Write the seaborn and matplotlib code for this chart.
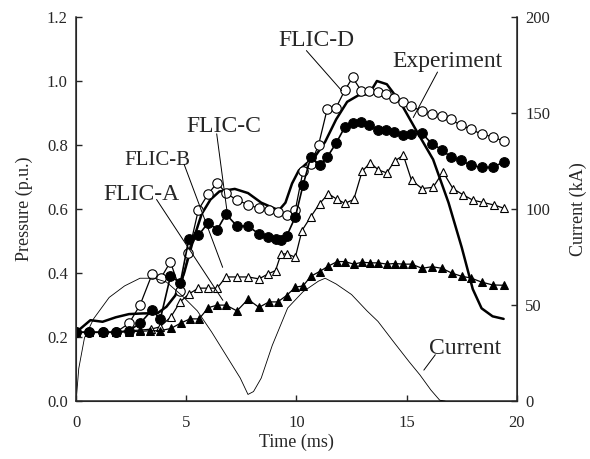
import matplotlib
matplotlib.use('Agg')
import matplotlib.pyplot as plt
import seaborn as sns

# pressure (p.u.) vs time (ms)
t_exp = [0, 0.65, 1.2, 1.8, 2.4, 3.0, 3.7, 4.1, 4.5, 4.9, 5.3, 5.7, 6.1, 6.5, 7.2, 7.8, 8.4, 9.2, 9.5, 9.8,
         10.1, 10.45, 10.8, 11.3, 11.8, 12.3, 12.8, 13.3, 13.65, 14.1, 14.7, 15.4, 16.2, 16.9, 17.5, 18.0, 18.4, 18.9, 19.4]
p_exp = [0.215, 0.253, 0.248, 0.262, 0.272, 0.274, 0.275, 0.295, 0.33, 0.4, 0.5, 0.585, 0.63, 0.655, 0.663, 0.65, 0.62, 0.596, 0.62, 0.68,
         0.72, 0.742, 0.76, 0.81, 0.88, 0.935, 0.955, 0.96, 1.0, 0.99, 0.935, 0.85, 0.755, 0.62, 0.48, 0.35, 0.29, 0.265, 0.257]

t_a = [0, 0.6, 1.2, 1.8, 2.4, 2.9, 3.35, 3.8, 4.3, 4.75, 5.17, 5.58, 6.0, 6.4, 6.8, 7.3, 7.8, 8.3, 8.75, 9.15,
       9.55, 9.95, 10.3, 10.65, 11.05, 11.45, 11.85, 12.2, 12.6, 12.98, 13.35, 13.72, 14.1, 14.45, 14.85,
       15.22, 15.7, 16.15, 16.6, 17.05, 17.5, 17.9, 18.4, 18.9, 19.4]
p_a = [0.215, 0.215, 0.215, 0.215, 0.217, 0.218, 0.22, 0.22, 0.227, 0.244, 0.257, 0.257, 0.292, 0.3, 0.3, 0.282, 0.318, 0.293, 0.31, 0.31,
       0.33, 0.356, 0.36, 0.39, 0.405, 0.422, 0.436, 0.436, 0.428, 0.434, 0.432, 0.432, 0.428, 0.43, 0.428,
       0.428, 0.415, 0.42, 0.415, 0.4, 0.39, 0.385, 0.372, 0.363, 0.362]

t_b = [0, 0.6, 1.2, 1.8, 2.4, 2.9, 3.4, 3.8, 4.3, 4.72, 5.12, 5.55, 5.97, 6.4, 6.8, 7.3, 7.8, 8.3, 8.7, 9.05,
       9.3, 9.55, 9.95, 10.25, 10.65, 11.05, 11.45, 11.85, 12.2, 12.6, 12.98, 13.35, 13.72, 14.1, 14.45,
       14.85, 15.22, 15.7, 16.2, 16.65, 17.1, 17.55, 18.0, 18.45, 18.95, 19.4]
p_b = [0.215, 0.215, 0.215, 0.215, 0.22, 0.222, 0.225, 0.232, 0.263, 0.31, 0.335, 0.353, 0.353, 0.353, 0.388, 0.388, 0.388, 0.382, 0.397, 0.408,
       0.46, 0.46, 0.45, 0.533, 0.576, 0.617, 0.648, 0.63, 0.618, 0.63, 0.718, 0.745, 0.722, 0.713, 0.75,
       0.768, 0.69, 0.664, 0.668, 0.716, 0.664, 0.645, 0.628, 0.621, 0.613, 0.603]

t_c = [0, 0.6, 1.2, 1.8, 2.4, 2.9, 3.45, 3.82, 4.28, 4.73, 5.12, 5.55, 6.0, 6.4, 6.8, 7.3, 7.8, 8.3, 8.72, 9.05,
       9.3, 9.55, 9.95, 10.3, 10.65, 11.05, 11.4, 11.8, 12.2, 12.55, 12.95, 13.3, 13.7, 14.06, 14.44,
       14.82, 15.2, 15.7, 16.15, 16.6, 17.0, 17.45, 17.9, 18.4, 18.9, 19.4]
p_c = [0.215, 0.215, 0.215, 0.215, 0.22, 0.243, 0.285, 0.256, 0.39, 0.37, 0.508, 0.518, 0.558, 0.535, 0.584, 0.547, 0.547, 0.522, 0.512, 0.508,
       0.503, 0.515, 0.576, 0.675, 0.763, 0.738, 0.763, 0.806, 0.857, 0.868, 0.873, 0.862, 0.847, 0.847, 0.842,
       0.831, 0.835, 0.837, 0.803, 0.786, 0.762, 0.753, 0.737, 0.73, 0.73, 0.747]

t_d = [0, 0.6, 1.2, 1.8, 2.4, 2.9, 3.45, 3.86, 4.28, 4.73, 5.1, 5.55, 6.0, 6.4, 6.8, 7.3, 7.8, 8.3, 8.75, 9.15,
       9.55, 9.95, 10.3, 10.65, 11.0, 11.4, 11.8, 12.2, 12.55, 12.95, 13.3, 13.7, 14.06, 14.44, 14.82,
       15.2, 15.7, 16.15, 16.6, 17.0, 17.45, 17.9, 18.4, 18.9, 19.4]
p_d = [0.215, 0.215, 0.215, 0.215, 0.243, 0.3, 0.397, 0.386, 0.435, 0.345, 0.462, 0.598, 0.648, 0.682, 0.65, 0.628, 0.614, 0.602, 0.597, 0.59,
       0.58, 0.598, 0.72, 0.74, 0.8, 0.914, 0.917, 0.972, 1.011, 0.968, 0.968, 0.967, 0.96, 0.946, 0.933,
       0.922, 0.905, 0.897, 0.89, 0.88, 0.862, 0.85, 0.834, 0.826, 0.812]

# arc current (kA), right axis
t_cur = [0, 0.12, 0.38, 0.8, 1.5, 2.2, 2.9, 3.55, 4.1, 4.8, 5.5, 6.15, 6.8, 7.45, 7.8, 8.05, 8.4, 8.9, 9.6, 10.3,
         11.0, 11.3, 11.8, 12.5, 13.2, 13.7, 14.4, 15.1, 15.6, 16.1, 16.5, 16.75]
i_cur = [0, 17, 33, 43, 54, 60, 64, 64, 62, 55, 47, 36, 24, 12, 3.5, 5, 12, 29, 48.5, 57,
         62.5, 64, 61, 55.5, 47, 41.5, 31, 20.7, 13.7, 5.8, 0.5, 0]

sns.set_style('ticks')
plt.rcParams['font.family'] = ['Liberation Serif', 'DejaVu Serif']

fig = plt.figure(figsize=(5.9, 4.59), dpi=100)
ax = fig.add_axes([0.129, 0.126, 0.747, 0.837])

sns.lineplot(x=t_exp, y=p_exp, ax=ax, color='black', lw=1.8, errorbar=None, sort=False)
# open markers first, filled ones on top
sns.lineplot(x=t_d, y=p_d, ax=ax, color='black', lw=0.9, marker='o', markersize=6.8,
             markerfacecolor='white', markeredgecolor='black', markeredgewidth=0.8, errorbar=None, sort=False)
sns.lineplot(x=t_b, y=p_b, ax=ax, color='black', lw=0.9, marker='^', markersize=5.8,
             markerfacecolor='white', markeredgecolor='black', markeredgewidth=0.8, errorbar=None, sort=False)
sns.lineplot(x=t_c, y=p_c, ax=ax, color='black', lw=1.2, marker='o', markersize=7,
             markerfacecolor='black', markeredgecolor='black', errorbar=None, sort=False)
sns.lineplot(x=t_a, y=p_a, ax=ax, color='black', lw=0.9, marker='^', markersize=5.8,
             markerfacecolor='black', markeredgecolor='black', errorbar=None, sort=False)

ax.set_xlim(0, 20)
ax.set_ylim(0, 1.2)
ax.set_xticks([0, 5, 10, 15, 20])
ax.set_yticks([0, 0.2, 0.4, 0.6, 0.8, 1.0, 1.2])
ax.set_yticklabels(['0.0', '0.2', '0.4', '0.6', '0.8', '1.0', '1.2'])
ax.set_xlabel('Time (ms)', fontsize=13, labelpad=2)
ax.set_ylabel('Pressure (p.u.)', fontsize=13, labelpad=10)
ax.tick_params(direction='in', length=4, width=1, labelsize=12)
ax.tick_params(axis='x', pad=10)
ax.tick_params(axis='y', pad=6)
ax.spines['top'].set_visible(False)
for s in ['left', 'bottom']:
    ax.spines[s].set_linewidth(1.1)

ax2 = ax.twinx()
sns.lineplot(x=t_cur, y=i_cur, ax=ax2, color='black', lw=0.6, errorbar=None, sort=False)
ax2.set_ylim(0, 200)
ax2.set_yticks([0, 50, 100, 150, 200])
ax2.set_ylabel('Current (kA)', fontsize=13, labelpad=14)
ax2.tick_params(direction='in', length=4, width=1, labelsize=12, pad=6)
ax2.spines['top'].set_visible(False)
ax2.spines['right'].set_linewidth(1.1)

# labels with leader lines (data coords of the pressure axis)
labels = [
    ('FLIC-D', (10.9, 1.125), (10.45, 1.095), (12.05, 0.97), 17),
    ('Experiment', (16.85, 1.06), (16.4, 1.028), (15.3, 0.886), 17),
    ('FLIC-C', (6.68, 0.858), (6.38, 0.835), (6.85, 0.592), 17),
    ('FLIC-B', (3.7, 0.752), (4.9, 0.74), (6.65, 0.418), 15),
    ('FLIC-A', (2.96, 0.647), (3.65, 0.63), (6.66, 0.315), 17),
    ('Current', (17.65, 0.165), (16.3, 0.145), (15.78, 0.097), 17),
]
for txt, pos, start, end, size in labels:
    ax.text(pos[0], pos[1], txt, fontsize=size, ha='center', va='center')
    ax.annotate('', xy=end, xytext=start,
                arrowprops=dict(arrowstyle='-', lw=0.7, color='black', shrinkA=0, shrinkB=0))

fig.savefig('out.png', dpi=100)
